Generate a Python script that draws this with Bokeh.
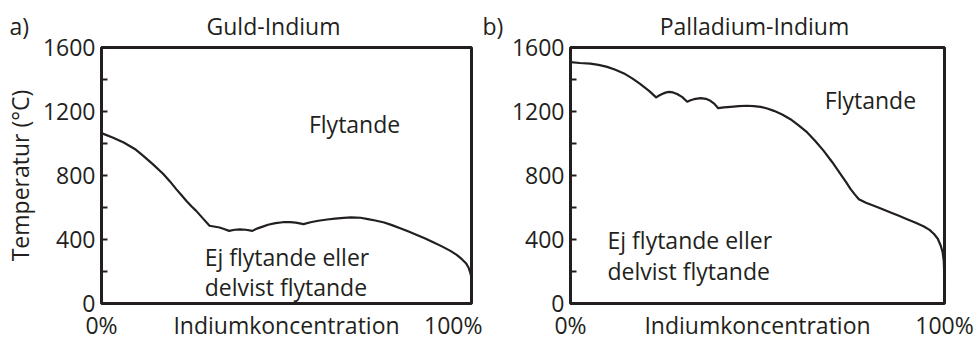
from bokeh.plotting import figure
from bokeh.layouts import row, column
from bokeh.models import Range1d, FixedTicker, Label
from bokeh.embed import file_html
from bokeh.resources import INLINE

# ---- data ----
au_x = [0, 3, 6, 9, 11.3, 14, 16.7, 18.5, 20.2, 21.7, 22.9, 24.3, 25.6, 27.4, 29.2, 31.9, 33.5, 34.5,
        36, 37.4, 39, 40.8, 42, 43.4, 45, 47, 49, 51, 52.5, 54.6, 56.5, 58.6, 61, 63.1, 65.5, 67.5,
        70, 72, 74, 76.4, 78.5, 80.9, 83, 85.4, 87.5, 89.8, 92, 94.3, 96, 97.4, 98.5, 99.2, 99.7, 100]
au_t = [1065, 1038, 1006, 966, 923, 868, 809, 763, 715, 675, 642, 608, 579, 532, 486, 475, 462, 454,
        461, 463, 461, 454, 468, 479, 492, 502, 508, 508, 505, 496, 508, 517, 525, 531, 535, 538,
        536, 527, 519, 506, 490, 469, 450, 427, 406, 381, 357, 329, 304, 277, 252, 225, 190, 157]

pd_x = [0, 2.5, 5.3, 7.5, 9.8, 12, 14.3, 16.5, 18.7, 21, 22.9, 23.7, 24.5, 25.4, 26.3, 27.4, 28.5,
        29.9, 31.2, 32.1, 33.0, 34.8, 36.2, 37.4, 38.5, 39.5, 41, 42.8, 45, 47.2, 49, 50.8, 52.6,
        54.4, 56.6, 58.8, 61, 63.3, 65.5, 67.7, 70, 72.2, 73.6, 74.9, 76, 77.1, 79, 81.1, 83.3,
        85.6, 87.8, 90, 92.3, 94.5, 96, 97.2, 98.2, 99, 99.5, 99.8, 100]
pd_t = [1508, 1503, 1499, 1491, 1479, 1461, 1438, 1407, 1371, 1329, 1288, 1300, 1309, 1318, 1323,
        1319, 1309, 1290, 1261, 1270, 1277, 1284, 1279, 1267, 1247, 1221, 1226, 1229, 1233, 1236,
        1234, 1229, 1219, 1204, 1181, 1152, 1113, 1069, 1014, 954, 883, 809, 762, 715, 682, 652,
        630, 611, 590, 569, 548, 527, 505, 481, 460, 434, 405, 361, 320, 267, 130]

y_ticks = [0, 400, 800, 1200, 1600]
y_minor = [200, 600, 1000, 1400]
x_ticks = [0, 50, 100]
x_labels = ["0%", "Indiumkoncentration", "100%"]
titles = ["Guld-Indium", "Palladium-Indium"]
panel_tags = ["a)", "b)"]
liquid = "Flytande"
solid = ["Ej flytande eller", "delvist flytande"]

INK = "#231f20"
FONT = "Open Sans"
FS = "23px"

HEAD_H = 45
OVERLAP = 17


def text_label(p, x, y, text, align):
    p.add_layout(Label(x=x, y=y, text=text, text_font=FONT, text_font_size=FS,
                       text_color=INK, text_align=align, text_baseline="middle"))


# ---- header strip holding the panel tags and titles ----
head = figure(width=980, height=HEAD_H, output_backend="svg", toolbar_location=None,
              x_range=Range1d(0, 980), y_range=Range1d(0, HEAD_H), title_location=None,
              x_axis_location=None, y_axis_location=None, min_border=0)
head.outline_line_color = None
head.grid.visible = False
head.background_fill_color = "white"
head.border_fill_color = "white"
text_label(head, 9, 19.5, panel_tags[0], "left")
text_label(head, 273, 19.5, titles[0], "center")
text_label(head, 482, 19.5, panel_tags[1], "left")
text_label(head, 754, 19.5, titles[1], "center")


def make(xs, ts, width, left, right, liq_xy, sol_xy, ylabel):
    p = figure(width=width, height=343 - HEAD_H + OVERLAP, output_backend="svg",
               toolbar_location=None,
               x_range=Range1d(0, 100), y_range=Range1d(0, 1600), title_location=None,
               min_border_left=left, min_border_right=right, min_border_top=2 + OVERLAP,
               min_border_bottom=40)
    p.background_fill_color = "white"
    p.border_fill_alpha = 0
    p.outline_line_color = INK
    p.outline_line_width = 3
    p.grid.visible = False

    p.line(xs, ts, line_color=INK, line_width=2.2, line_join="round")

    ya = p.yaxis[0]
    ya.ticker = FixedTicker(ticks=y_ticks, minor_ticks=y_minor)
    ya.axis_line_color = None
    ya.major_tick_in = 6
    ya.major_tick_out = 0
    ya.minor_tick_in = 6
    ya.minor_tick_out = 0
    ya.major_tick_line_color = INK
    ya.minor_tick_line_color = INK
    ya.major_tick_line_width = 2
    ya.minor_tick_line_width = 2
    ya.major_label_text_font = FONT
    ya.major_label_text_font_size = FS
    ya.major_label_text_color = INK
    ya.major_label_standoff = 6
    if ylabel:
        ya.axis_label = ylabel
        ya.axis_label_text_font = FONT
        ya.axis_label_text_font_size = FS
        ya.axis_label_text_font_style = "normal"
        ya.axis_label_text_color = INK
        ya.axis_label_standoff = 4

    xa = p.xaxis[0]
    xa.ticker = FixedTicker(ticks=x_ticks, minor_ticks=[])
    xa.major_label_overrides = {t: l for t, l in zip(x_ticks, x_labels)}
    xa.axis_line_color = None
    xa.major_tick_line_color = None
    xa.minor_tick_line_color = None
    xa.major_tick_in = 0
    xa.major_tick_out = 0
    xa.minor_tick_in = 0
    xa.minor_tick_out = 0
    xa.major_label_text_font = FONT
    xa.major_label_text_font_size = FS
    xa.major_label_text_color = INK
    xa.major_label_standoff = 5

    text_label(p, liq_xy[0], liq_xy[1], liquid, "center")
    text_label(p, sol_xy[0], sol_xy[1], solid[0], "left")
    text_label(p, sol_xy[0], sol_xy[1] - 190, solid[1], "left")
    return p


p1 = make(au_x, au_t, 482, 98, 11, (68.4, 1121), (27.9, 292), "Temperatur (°C)")
p2 = make(pd_x, pd_t, 498, 88, 36, (80.2, 1270), (9.9, 395), None)

body = row(p1, p2, margin=(-OVERLAP, 0, 0, 0))
layout = column(head, body)
open("out.html", "w").write(file_html(layout, INLINE))
